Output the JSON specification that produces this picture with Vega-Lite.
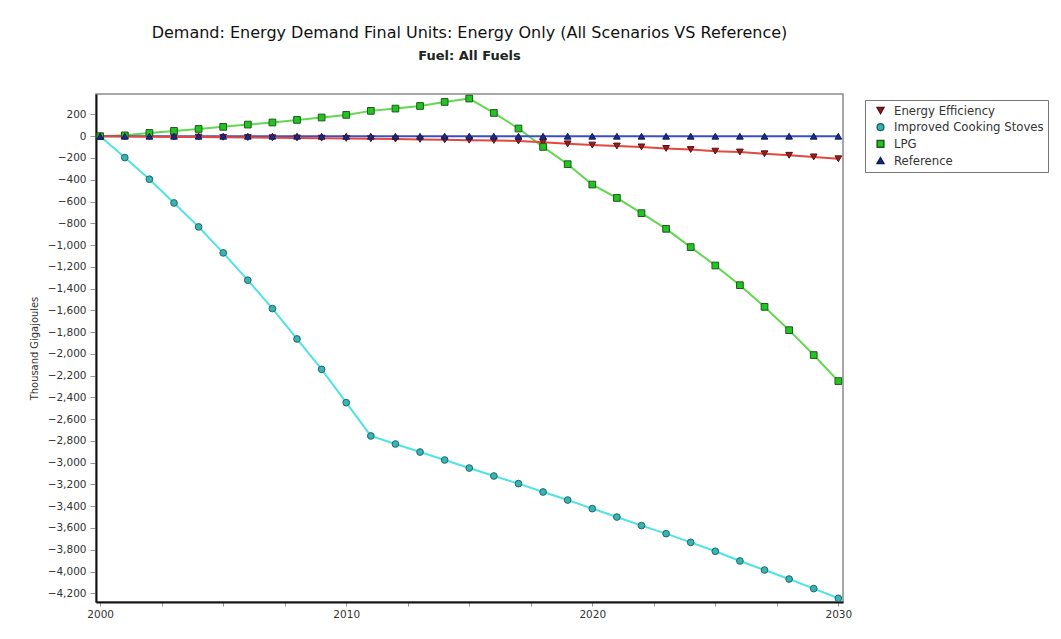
{
  "$schema": "https://vega.github.io/schema/vega-lite/v6.json",
  "width": 747,
  "height": 508,
  "autosize": "none",
  "padding": {"left": 96, "top": 94, "right": 218, "bottom": 37},
  "background": "white",
  "config": {
    "font": "DejaVu Sans",
    "view": {"stroke": "#8a8a8a", "strokeWidth": 1.5}
  },
  "title": {
    "text": "Demand: Energy Demand Final Units: Energy Only (All Scenarios VS Reference)",
    "subtitle": "Fuel: All Fuels",
    "anchor": "middle",
    "font": "DejaVu Sans",
    "fontSize": 16,
    "fontWeight": "normal",
    "color": "#111",
    "subtitleFont": "DejaVu Sans",
    "subtitleFontSize": 13,
    "subtitleFontWeight": "bold",
    "subtitleColor": "#222",
    "subtitlePadding": 9,
    "offset": 30
  },
  "datasets": {
    "series": [
      {"year": 2000, "scenario": "Energy Efficiency", "value": 0},
      {"year": 2001, "scenario": "Energy Efficiency", "value": -2},
      {"year": 2002, "scenario": "Energy Efficiency", "value": -4},
      {"year": 2003, "scenario": "Energy Efficiency", "value": -6},
      {"year": 2004, "scenario": "Energy Efficiency", "value": -8},
      {"year": 2005, "scenario": "Energy Efficiency", "value": -10},
      {"year": 2006, "scenario": "Energy Efficiency", "value": -12},
      {"year": 2007, "scenario": "Energy Efficiency", "value": -14},
      {"year": 2008, "scenario": "Energy Efficiency", "value": -16},
      {"year": 2009, "scenario": "Energy Efficiency", "value": -18},
      {"year": 2010, "scenario": "Energy Efficiency", "value": -20},
      {"year": 2011, "scenario": "Energy Efficiency", "value": -23},
      {"year": 2012, "scenario": "Energy Efficiency", "value": -26},
      {"year": 2013, "scenario": "Energy Efficiency", "value": -29},
      {"year": 2014, "scenario": "Energy Efficiency", "value": -33},
      {"year": 2015, "scenario": "Energy Efficiency", "value": -37},
      {"year": 2016, "scenario": "Energy Efficiency", "value": -39},
      {"year": 2017, "scenario": "Energy Efficiency", "value": -44},
      {"year": 2018, "scenario": "Energy Efficiency", "value": -55},
      {"year": 2019, "scenario": "Energy Efficiency", "value": -70},
      {"year": 2020, "scenario": "Energy Efficiency", "value": -81},
      {"year": 2021, "scenario": "Energy Efficiency", "value": -90},
      {"year": 2022, "scenario": "Energy Efficiency", "value": -98},
      {"year": 2023, "scenario": "Energy Efficiency", "value": -112},
      {"year": 2024, "scenario": "Energy Efficiency", "value": -122},
      {"year": 2025, "scenario": "Energy Efficiency", "value": -137},
      {"year": 2026, "scenario": "Energy Efficiency", "value": -145},
      {"year": 2027, "scenario": "Energy Efficiency", "value": -161},
      {"year": 2028, "scenario": "Energy Efficiency", "value": -175},
      {"year": 2029, "scenario": "Energy Efficiency", "value": -190},
      {"year": 2030, "scenario": "Energy Efficiency", "value": -207},
      {"year": 2000, "scenario": "Improved Cooking Stoves", "value": 0},
      {"year": 2001, "scenario": "Improved Cooking Stoves", "value": -196},
      {"year": 2002, "scenario": "Improved Cooking Stoves", "value": -395},
      {"year": 2003, "scenario": "Improved Cooking Stoves", "value": -613},
      {"year": 2004, "scenario": "Improved Cooking Stoves", "value": -833},
      {"year": 2005, "scenario": "Improved Cooking Stoves", "value": -1072},
      {"year": 2006, "scenario": "Improved Cooking Stoves", "value": -1323},
      {"year": 2007, "scenario": "Improved Cooking Stoves", "value": -1584},
      {"year": 2008, "scenario": "Improved Cooking Stoves", "value": -1863},
      {"year": 2009, "scenario": "Improved Cooking Stoves", "value": -2142},
      {"year": 2010, "scenario": "Improved Cooking Stoves", "value": -2448},
      {"year": 2011, "scenario": "Improved Cooking Stoves", "value": -2754},
      {"year": 2012, "scenario": "Improved Cooking Stoves", "value": -2828},
      {"year": 2013, "scenario": "Improved Cooking Stoves", "value": -2902},
      {"year": 2014, "scenario": "Improved Cooking Stoves", "value": -2975},
      {"year": 2015, "scenario": "Improved Cooking Stoves", "value": -3049},
      {"year": 2016, "scenario": "Improved Cooking Stoves", "value": -3122},
      {"year": 2017, "scenario": "Improved Cooking Stoves", "value": -3192},
      {"year": 2018, "scenario": "Improved Cooking Stoves", "value": -3269},
      {"year": 2019, "scenario": "Improved Cooking Stoves", "value": -3343},
      {"year": 2020, "scenario": "Improved Cooking Stoves", "value": -3422},
      {"year": 2021, "scenario": "Improved Cooking Stoves", "value": -3499},
      {"year": 2022, "scenario": "Improved Cooking Stoves", "value": -3578},
      {"year": 2023, "scenario": "Improved Cooking Stoves", "value": -3652},
      {"year": 2024, "scenario": "Improved Cooking Stoves", "value": -3732},
      {"year": 2025, "scenario": "Improved Cooking Stoves", "value": -3814},
      {"year": 2026, "scenario": "Improved Cooking Stoves", "value": -3903},
      {"year": 2027, "scenario": "Improved Cooking Stoves", "value": -3986},
      {"year": 2028, "scenario": "Improved Cooking Stoves", "value": -4069},
      {"year": 2029, "scenario": "Improved Cooking Stoves", "value": -4157},
      {"year": 2030, "scenario": "Improved Cooking Stoves", "value": -4246},
      {"year": 2000, "scenario": "LPG", "value": 0},
      {"year": 2001, "scenario": "LPG", "value": 8},
      {"year": 2002, "scenario": "LPG", "value": 30},
      {"year": 2003, "scenario": "LPG", "value": 49},
      {"year": 2004, "scenario": "LPG", "value": 67},
      {"year": 2005, "scenario": "LPG", "value": 86},
      {"year": 2006, "scenario": "LPG", "value": 107},
      {"year": 2007, "scenario": "LPG", "value": 126},
      {"year": 2008, "scenario": "LPG", "value": 150},
      {"year": 2009, "scenario": "LPG", "value": 172},
      {"year": 2010, "scenario": "LPG", "value": 196},
      {"year": 2011, "scenario": "LPG", "value": 233},
      {"year": 2012, "scenario": "LPG", "value": 254},
      {"year": 2013, "scenario": "LPG", "value": 278},
      {"year": 2014, "scenario": "LPG", "value": 315},
      {"year": 2015, "scenario": "LPG", "value": 346},
      {"year": 2016, "scenario": "LPG", "value": 214},
      {"year": 2017, "scenario": "LPG", "value": 71},
      {"year": 2018, "scenario": "LPG", "value": -98},
      {"year": 2019, "scenario": "LPG", "value": -257},
      {"year": 2020, "scenario": "LPG", "value": -444},
      {"year": 2021, "scenario": "LPG", "value": -567},
      {"year": 2022, "scenario": "LPG", "value": -707},
      {"year": 2023, "scenario": "LPG", "value": -851},
      {"year": 2024, "scenario": "LPG", "value": -1019},
      {"year": 2025, "scenario": "LPG", "value": -1188},
      {"year": 2026, "scenario": "LPG", "value": -1369},
      {"year": 2027, "scenario": "LPG", "value": -1568},
      {"year": 2028, "scenario": "LPG", "value": -1782},
      {"year": 2029, "scenario": "LPG", "value": -2011},
      {"year": 2030, "scenario": "LPG", "value": -2250},
      {"year": 2000, "scenario": "Reference", "value": 0},
      {"year": 2001, "scenario": "Reference", "value": 0},
      {"year": 2002, "scenario": "Reference", "value": 0},
      {"year": 2003, "scenario": "Reference", "value": 0},
      {"year": 2004, "scenario": "Reference", "value": 0},
      {"year": 2005, "scenario": "Reference", "value": 0},
      {"year": 2006, "scenario": "Reference", "value": 0},
      {"year": 2007, "scenario": "Reference", "value": 0},
      {"year": 2008, "scenario": "Reference", "value": 0},
      {"year": 2009, "scenario": "Reference", "value": 0},
      {"year": 2010, "scenario": "Reference", "value": 0},
      {"year": 2011, "scenario": "Reference", "value": 0},
      {"year": 2012, "scenario": "Reference", "value": 0},
      {"year": 2013, "scenario": "Reference", "value": 0},
      {"year": 2014, "scenario": "Reference", "value": 0},
      {"year": 2015, "scenario": "Reference", "value": 0},
      {"year": 2016, "scenario": "Reference", "value": 0},
      {"year": 2017, "scenario": "Reference", "value": 0},
      {"year": 2018, "scenario": "Reference", "value": 0},
      {"year": 2019, "scenario": "Reference", "value": 0},
      {"year": 2020, "scenario": "Reference", "value": 0},
      {"year": 2021, "scenario": "Reference", "value": 0},
      {"year": 2022, "scenario": "Reference", "value": 0},
      {"year": 2023, "scenario": "Reference", "value": 0},
      {"year": 2024, "scenario": "Reference", "value": 0},
      {"year": 2025, "scenario": "Reference", "value": 0},
      {"year": 2026, "scenario": "Reference", "value": 0},
      {"year": 2027, "scenario": "Reference", "value": 0},
      {"year": 2028, "scenario": "Reference", "value": 0},
      {"year": 2029, "scenario": "Reference", "value": 0},
      {"year": 2030, "scenario": "Reference", "value": 0}
    ]
  },
  "data": {"name": "series"},
  "encoding": {
    "x": {
      "field": "year",
      "type": "quantitative",
      "scale": {"domain": [1999.83, 2030.19], "nice": false, "zero": false},
      "axis": {
        "title": null,
        "values": [2000, 2002.5, 2005, 2007.5, 2010, 2012.5, 2015, 2017.5, 2020, 2022.5, 2025, 2027.5, 2030],
        "labelExpr": "datum.value % 10 === 0 ? datum.value : ''",
        "labelFlush": false,
        "labelOverlap": false,
        "labelFont": "DejaVu Sans",
        "labelFontSize": 10.5,
        "labelColor": "#333",
        "labelPadding": 3,
        "tickSize": 4,
        "tickColor": "#999",
        "domainColor": "#111",
        "domainWidth": 2,
        "grid": false
      }
    },
    "y": {
      "field": "value",
      "type": "quantitative",
      "scale": {"domain": [-4280, 388], "nice": false, "zero": false},
      "axis": {
        "title": "Thousand Gigajoules",
        "titleFont": "DejaVu Sans Condensed",
        "titleFontSize": 11,
        "titleFontWeight": "normal",
        "titleColor": "#333",
        "titlePadding": 8,
        "values": [200, 0, -200, -400, -600, -800, -1000, -1200, -1400, -1600, -1800, -2000, -2200, -2400, -2600, -2800, -3000, -3200, -3400, -3600, -3800, -4000, -4200],
        "format": ",.0f",
        "labelFlush": false,
        "labelOverlap": false,
        "labelFont": "DejaVu Sans",
        "labelFontSize": 10.5,
        "labelColor": "#333",
        "labelPadding": 4,
        "tickSize": 6,
        "tickColor": "#999",
        "domainColor": "#111",
        "domainWidth": 2,
        "grid": false
      }
    }
  },
  "layer": [
    {
      "transform": [{"filter": "datum.scenario === 'LPG'"}],
      "mark": {"type": "line", "strokeWidth": 2, "color": "#62d84f"}
    },
    {
      "transform": [{"filter": "datum.scenario === 'Improved Cooking Stoves'"}],
      "mark": {"type": "line", "strokeWidth": 2, "color": "#4fe3e3"}
    },
    {
      "transform": [{"filter": "datum.scenario === 'Reference'"}],
      "mark": {"type": "line", "strokeWidth": 2, "color": "#3b4ec4"}
    },
    {
      "transform": [{"filter": "datum.scenario === 'Energy Efficiency'"}],
      "mark": {"type": "line", "strokeWidth": 2, "color": "#e4473f"}
    },
    {
      "mark": {"type": "point", "filled": true, "size": 45, "strokeWidth": 1, "opacity": 1},
      "encoding": {
        "shape": {
          "field": "scenario",
          "type": "nominal",
          "scale": {
            "domain": ["Energy Efficiency", "Improved Cooking Stoves", "LPG", "Reference"],
            "range": ["triangle-down", "circle", "square", "triangle-up"]
          },
          "legend": {
            "title": null,
            "orient": "none",
            "legendX": 769,
            "legendY": 6,
            "labelFont": "DejaVu Sans Condensed",
            "labelFontSize": 13,
            "labelColor": "#333",
            "labelOffset": 7,
            "symbolOffset": 5,
            "symbolSize": 45,
            "rowPadding": 2.7,
            "padding": 4,
            "strokeColor": "#777",
            "fillColor": "white",
            "labelLimit": 250
          }
        },
        "fill": {
          "field": "scenario",
          "type": "nominal",
          "scale": {
            "domain": ["Energy Efficiency", "Improved Cooking Stoves", "LPG", "Reference"],
            "range": ["#9b1c1c", "#3bb3b3", "#22c322", "#1c2a8c"]
          }
        },
        "stroke": {
          "field": "scenario",
          "type": "nominal",
          "scale": {
            "domain": ["Energy Efficiency", "Improved Cooking Stoves", "LPG", "Reference"],
            "range": ["#5a1010", "#1d6a6a", "#1d5a1d", "#101a55"]
          }
        }
      }
    }
  ]
}
